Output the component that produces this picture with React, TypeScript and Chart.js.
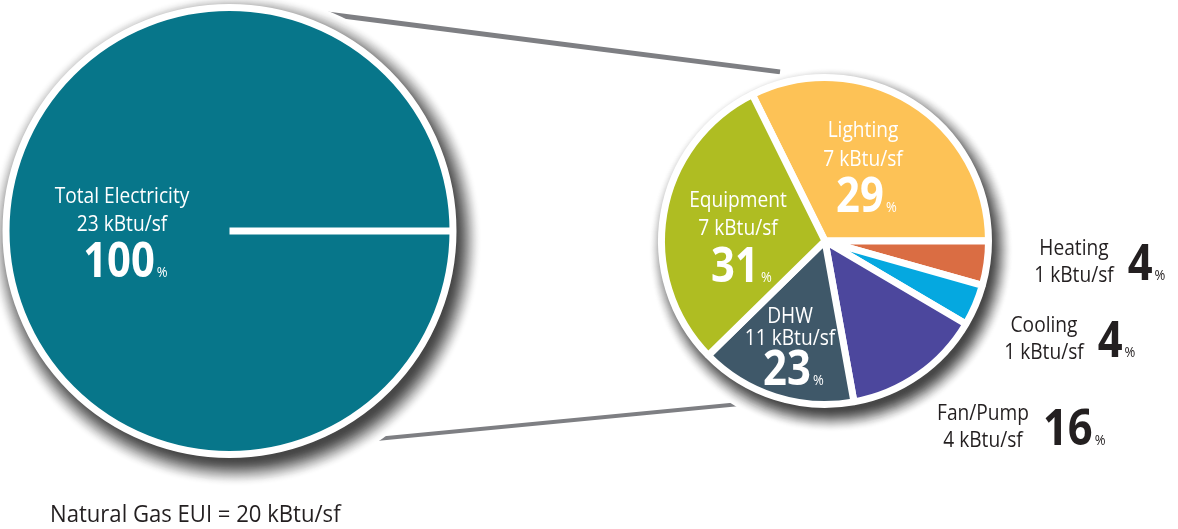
import React, { useEffect, useRef } from 'react';
import { Chart, registerables } from 'chart.js';

Chart.register(...registerables);

// ---------------- data ----------------
const TOTAL_CATEGORY = ['Total Electricity'];
const TOTAL_SHARE = [100];
const TOTAL_KBTU = [23];
const TOTAL_PCT = [100];

const END_USES = ['Lighting', 'Heating', 'Cooling', 'Fan/Pump', 'DHW', 'Equipment'];
// slice sizes as drawn in the picture (share of the circle, %)
const END_USE_SHARE = [32.3, 4.4, 4.1, 13.7, 15.5, 30.0];
const END_USE_KBTU = [7, 1, 1, 4, 11, 7];
const END_USE_PCT = [29, 4, 4, 16, 23, 31];

const GAS_EUI = 20;

// ---------------- style ----------------
const H = 529;
const BIG_W = 600;
const SMALL_LEFT = 600;
const SMALL_W = 578;
const TEAL = '#07768A';
const END_USE_COLORS = ['#FDC256', '#DA6D43', '#05A8E0', '#4C479D', '#3F5869', '#AFBD22'];
const DARK = '#231F20';
const CONNECTOR = '#7E7F83';
const FONT = "'Open Sans', 'Noto Sans', sans-serif";
const SX = 0.87;
const BORDER = 7;

// label layout relative to each pie centre
const TOTAL_LABEL = { dx: -107.5, dy: -28, g1: 28, g2: 46 };
const END_USE_LABELS: any[] = [
  { mode: 'in', dx: 38, dy: -104, g1: 29, g2: 46 },
  { mode: 'out', dx: 249, dy: 14 },
  { mode: 'out', dx: 219, dy: 91 },
  { mode: 'out', dx: 158, dy: 179 },
  { mode: 'in', dx: -35, dy: 82, g1: 22, g2: 40 },
  { mode: 'in', dx: -87, dy: -34, g1: 28, g2: 47 },
];

// connector lines: angle/pad on big circle -> angle/pad on small circle
const CONNECTORS = [
  { fromDeg: -77.2, fromPad: 8.6, toDeg: -104.9, toPad: 15, width: 5 },
  { fromDeg: 76.9, fromPad: 3, toDeg: 100, toPad: 0, width: 4 },
];

function setFont(ctx: CanvasRenderingContext2D, size: number, weight: string) {
  ctx.font = `${weight} ${size}px ${FONT}`;
}

function tw(ctx: CanvasRenderingContext2D, text: string, size: number, weight: string, sx = SX) {
  ctx.save();
  setFont(ctx, size, weight);
  const w = ctx.measureText(text).width * sx;
  ctx.restore();
  return w;
}

function drawText(ctx: CanvasRenderingContext2D, text: string, x: number, y: number, size: number, weight: string, color: string, align: CanvasTextAlign, sx = SX) {
  ctx.save();
  setFont(ctx, size, weight);
  ctx.fillStyle = color;
  ctx.textAlign = align;
  ctx.textBaseline = 'alphabetic';
  ctx.translate(x, y);
  ctx.scale(sx, 1);
  ctx.fillText(text, 0, 0);
  ctx.restore();
}

const NAME_SIZE = 22;
const NUM_SIZE = 48;
const PCT_SIZE = 15;

function drawInside(ctx: CanvasRenderingContext2D, name: string, kbtu: number, pct: number, cx: number, b1: number, g1: number, g2: number) {
  drawText(ctx, name, cx, b1, NAME_SIZE, '400', '#fff', 'center');
  drawText(ctx, `${kbtu} kBtu/sf`, cx, b1 + g1, NAME_SIZE, '400', '#fff', 'center');
  const num = String(pct);
  const w = tw(ctx, num, NUM_SIZE, '700');
  const left = cx - 3 - w / 2;
  const base = b1 + g1 + g2;
  drawText(ctx, num, left, base, NUM_SIZE, '700', '#fff', 'left');
  drawText(ctx, '%', left + w + 2, base, PCT_SIZE, '400', '#fff', 'left');
}

function drawOutside(ctx: CanvasRenderingContext2D, name: string, kbtu: number, pct: number, cx: number, b1: number) {
  const l2 = `${kbtu} kBtu/sf`;
  drawText(ctx, name, cx, b1, NAME_SIZE, '400', DARK, 'center');
  drawText(ctx, l2, cx, b1 + 27, NAME_SIZE, '400', DARK, 'center');
  const maxW = Math.max(tw(ctx, name, NAME_SIZE, '400'), tw(ctx, l2, NAME_SIZE, '400'));
  const num = String(pct);
  const left = cx + maxW / 2 + 14;
  const w = tw(ctx, num, 50, '700');
  const base = b1 + 25;
  drawText(ctx, num, left, base, 50, '700', DARK, 'left');
  drawText(ctx, '%', left + w + 2, base, PCT_SIZE, '400', DARK, 'left');
}

// soft drop shadow: stacked opaque grey discs offset down-right.
// No white disc is filled on top; the pie's own white border gives the rim.
function shadowRings(ctx: CanvasRenderingContext2D, x: number, y: number, r: number, reach: number) {
  const ox = 6;
  const oy = 9;
  const start = r - 8;
  const span = reach + 8;
  ctx.save();
  for (let d = r + reach; d >= r - 14; d -= 1) {
    const t = Math.min(1, Math.max(0, (d - start) / span));
    const s = t * t * (3 - 2 * t);
    const I = 0.72 * (1 - s);
    const v = Math.round(255 * (1 - I));
    ctx.fillStyle = 'rgb(' + v + ',' + v + ',' + v + ')';
    ctx.beginPath();
    ctx.arc(x + ox, y + oy, d, 0, Math.PI * 2);
    ctx.fill();
  }
  ctx.restore();
}

// connectors in page coordinates, drawn on a canvas whose left edge is at canvasLeft
function drawConnectors(ctx: CanvasRenderingContext2D, canvasLeft: number, big: any, small: any) {
  const bx = big.x;
  const by = big.y;
  const sx = small.x + SMALL_LEFT;
  const sy = small.y;
  const r1 = big.outerRadius - BORDER / 2;
  const r2 = small.outerRadius - BORDER / 2;
  ctx.save();
  ctx.strokeStyle = CONNECTOR;
  ctx.lineCap = 'butt';
  CONNECTORS.forEach((c) => {
    const a1 = (c.fromDeg * Math.PI) / 180;
    const a2 = (c.toDeg * Math.PI) / 180;
    ctx.lineWidth = c.width;
    ctx.beginPath();
    ctx.moveTo(bx + (r1 + c.fromPad) * Math.cos(a1) - canvasLeft, by + (r1 + c.fromPad) * Math.sin(a1));
    ctx.lineTo(sx + (r2 + c.toPad) * Math.cos(a2) - canvasLeft, sy + (r2 + c.toPad) * Math.sin(a2));
    ctx.stroke();
  });
  ctx.restore();
}

export default function App() {
  const bigRef = useRef<HTMLCanvasElement>(null);
  const smallRef = useRef<HTMLCanvasElement>(null);

  useEffect(() => {
    if (!bigRef.current || !smallRef.current) return;
    let bigChart: any = null;

    const smallChart = new Chart(smallRef.current, {
      type: 'pie',
      data: {
        labels: END_USES,
        datasets: [{ data: END_USE_SHARE, backgroundColor: END_USE_COLORS, borderColor: '#ffffff', borderWidth: BORDER }],
      },
      options: {
        animation: false,
        responsive: false,
        events: [],
        rotation: -26.4,
        radius: 160 + BORDER / 2,
        layout: { padding: { left: 25, right: 153, top: 41, bottom: 88 } },
        plugins: { legend: { display: false }, tooltip: { enabled: false } },
      } as any,
      plugins: [
        {
          id: 'smallDeco',
          beforeDatasetsDraw(chart: any) {
            const ctx = chart.ctx;
            const arc = chart.getDatasetMeta(0).data[0];
            if (bigChart) drawConnectors(ctx, SMALL_LEFT, bigChart.getDatasetMeta(0).data[0], arc);
            shadowRings(ctx, arc.x, arc.y, arc.outerRadius + BORDER / 2, 16);
          },
          afterDatasetsDraw(chart: any) {
            const ctx = chart.ctx;
            const arcs = chart.getDatasetMeta(0).data;
            arcs.forEach((arc: any, i: number) => {
              const L = END_USE_LABELS[i];
              const cx = arc.x + L.dx;
              const b1 = arc.y + L.dy;
              if (L.mode === 'in') drawInside(ctx, END_USES[i], END_USE_KBTU[i], END_USE_PCT[i], cx, b1, L.g1, L.g2);
              else drawOutside(ctx, END_USES[i], END_USE_KBTU[i], END_USE_PCT[i], cx, b1);
            });
          },
        },
      ],
    });

    bigChart = new Chart(bigRef.current, {
      type: 'pie',
      data: {
        labels: TOTAL_CATEGORY,
        datasets: [{ data: TOTAL_SHARE, backgroundColor: [TEAL], borderColor: '#ffffff', borderWidth: BORDER }],
      },
      options: {
        animation: false,
        responsive: false,
        events: [],
        rotation: 90,
        radius: 220 + BORDER / 2,
        layout: { padding: { left: 0, right: 141, top: 0, bottom: 67 } },
        plugins: { legend: { display: false }, tooltip: { enabled: false } },
      } as any,
      plugins: [
        {
          id: 'bigDeco',
          beforeDatasetsDraw(chart: any) {
            const ctx = chart.ctx;
            const big: any = chart.getDatasetMeta(0).data[0];
            const small: any = smallChart.getDatasetMeta(0).data[0];
            drawConnectors(ctx, 0, big, small);
            shadowRings(ctx, big.x, big.y, big.outerRadius + BORDER / 2, 20);
          },
          afterDatasetsDraw(chart: any) {
            const ctx = chart.ctx;
            const big: any = chart.getDatasetMeta(0).data[0];
            drawInside(ctx, TOTAL_CATEGORY[0], TOTAL_KBTU[0], TOTAL_PCT[0], big.x + TOTAL_LABEL.dx, big.y + TOTAL_LABEL.dy, TOTAL_LABEL.g1, TOTAL_LABEL.g2);
            drawText(ctx, `Natural Gas EUI = ${GAS_EUI} kBtu/sf`, 50, 522, 23.5, '400', DARK, 'left', 0.94);
          },
        },
      ],
    });

    // redraw the small chart so its part of the connectors is drawn
    smallChart.draw();

    return () => {
      bigChart.destroy();
      smallChart.destroy();
    };
  }, []);

  return (
    <div style={{ position: 'fixed', left: 0, top: 0, width: 1178, height: H, background: '#fff' }}>
      <canvas ref={bigRef} width={BIG_W} height={H} style={{ position: 'absolute', left: 0, top: 0, width: BIG_W, height: H }} />
      <canvas ref={smallRef} width={SMALL_W} height={H} style={{ position: 'absolute', left: SMALL_LEFT, top: 0, width: SMALL_W, height: H }} />
    </div>
  );
}
